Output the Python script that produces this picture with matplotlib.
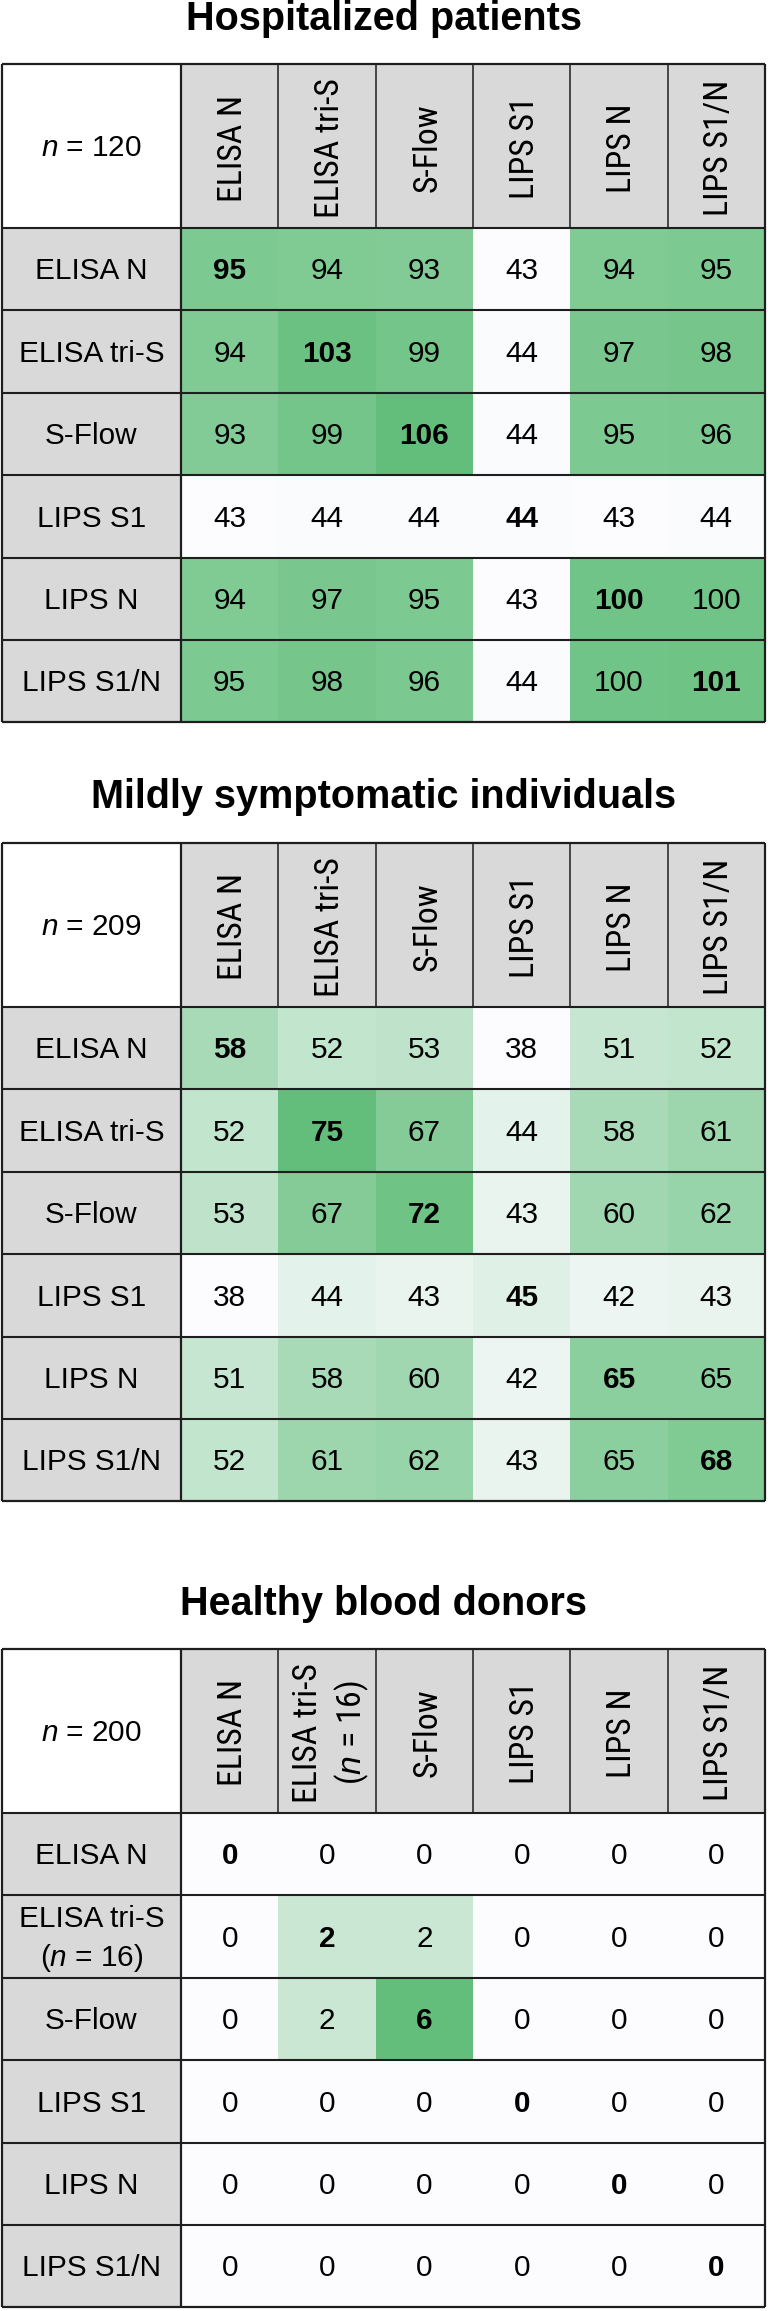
import matplotlib
matplotlib.use("Agg")
import matplotlib.pyplot as plt
import numpy as np
from matplotlib.colors import LinearSegmentedColormap, Normalize
from matplotlib.patches import Rectangle
from matplotlib import font_manager
from matplotlib.font_manager import FontProperties
from matplotlib.textpath import TextPath

# ---------------- data ----------------
titles = ["Hospitalized patients", "Mildly symptomatic individuals", "Healthy blood donors"]
sample_sizes = [120, 209, 200]
assays = ["ELISA N", "ELISA tri-S", "S-Flow", "LIPS S1", "LIPS N", "LIPS S1/N"]
assays_healthy = [["ELISA N"], ["ELISA tri-S", r"($\mathit{n}$ = 16)"], ["S-Flow"],
                  ["LIPS S1"], ["LIPS N"], ["LIPS S1/N"]]
hospitalized = [
    [95, 94, 93, 43, 94, 95],
    [94, 103, 99, 44, 97, 98],
    [93, 99, 106, 44, 95, 96],
    [43, 44, 44, 44, 43, 44],
    [94, 97, 95, 43, 100, 100],
    [95, 98, 96, 44, 100, 101],
]
mild = [
    [58, 52, 53, 38, 51, 52],
    [52, 75, 67, 44, 58, 61],
    [53, 67, 72, 43, 60, 62],
    [38, 44, 43, 45, 42, 43],
    [51, 58, 60, 42, 65, 65],
    [52, 61, 62, 43, 65, 68],
]
healthy = [
    [0, 0, 0, 0, 0, 0],
    [0, 2, 2, 0, 0, 0],
    [0, 2, 6, 0, 0, 0],
    [0, 0, 0, 0, 0, 0],
    [0, 0, 0, 0, 0, 0],
    [0, 0, 0, 0, 0, 0],
]

# ---------------- fonts ----------------
names = {f.name for f in font_manager.fontManager.ttflist}
BASE = "Liberation Sans" if "Liberation Sans" in names else "DejaVu Sans"
plt.rcParams["font.family"] = [BASE, "DejaVu Sans"]
plt.rcParams["mathtext.fontset"] = "custom"
plt.rcParams["mathtext.rm"] = BASE
plt.rcParams["mathtext.it"] = BASE + ":italic"

W, H, DPI = 768, 2311, 100
PX = DPI / 72.0


def ink(s, family, weight="normal"):
    """ink width of a string and cap height, both at a 1pt em"""
    fp = FontProperties(family=family, weight=weight)
    w = TextPath((0, 0), s, size=1, prop=fp).get_extents().width
    c = TextPath((0, 0), "H", size=1, prop=fp).get_extents().height
    return w, c


# header labels are set in a narrow grotesque: "ELISA tri-S" ~133 px long, caps ~24.5 px
HEAD_LEN, HEAD_CAPPX = 133.0, 24.5
target_ratio = HEAD_LEN / HEAD_CAPPX
best = None
for cand in ["Liberation Sans Narrow", "Nimbus Sans Narrow", "Arial Narrow",
             "Archivo Narrow", "Roboto Condensed", "PT Sans Narrow",
             "IBM Plex Sans Condensed", "Pragati Narrow"]:
    if cand not in names:
        continue
    w, c = ink("ELISA tri-S", cand)
    score = abs(w / c - target_ratio)
    if best is None or score < best[0] - 0.15:
        best = (score, cand)
NARROW = best[1] if best else BASE

BODY_PT = 21.4
TITLE_PT = 28.5
_, BODY_CAP = ink("H", BASE)
hw, HEAD_CAP = ink("ELISA tri-S", NARROW)
HEAD_PT = 0.5 * (HEAD_LEN / (hw * PX) + HEAD_CAPPX / (HEAD_CAP * PX))

GRAY = "#d9d9d9"
LINE = "#1e1e1e"
cmap = LinearSegmentedColormap.from_list("xlgreen", ["#FCFCFF", "#63BE7B"])

X_LEFT, X_LABEL, X_RIGHT = 2.0, 181.0, 765.0
HEADER_H = 164.0
ROW_H = 82.4
TOPS = [64.0, 843.0, 1649.0]
TITLE_BASE = [29.5, 808.5, 1615.0]
HEAD_LINE_GAP = 44.0
BODY_LINE_GAP = 39.0

fig = plt.figure(figsize=(W / DPI, H / DPI), dpi=DPI)
ax = fig.add_axes([0, 0, 1, 1])
ax.set_xlim(0, W)
ax.set_ylim(H, 0)
ax.axis("off")

datasets = [hospitalized, mild, healthy]
col_labels = [[[a] for a in assays], [[a] for a in assays], assays_healthy]

body_em = BODY_PT * PX
head_em = HEAD_PT * PX

for title, n, data, labels, top, tb in zip(titles, sample_sizes, datasets,
                                           col_labels, TOPS, TITLE_BASE):
    data = np.array(data, dtype=float)
    nr, nc = data.shape
    ax.text(W / 2, tb, title, ha="center", va="baseline", fontsize=TITLE_PT,
            fontweight="bold", color="black")

    body_top = top + HEADER_H
    xe = np.linspace(X_LABEL, X_RIGHT, nc + 1)
    ye = body_top + ROW_H * np.arange(nr + 1)
    bottom = ye[-1]

    # backgrounds
    ax.add_patch(Rectangle((X_LEFT, top), X_LABEL - X_LEFT, HEADER_H, fc="white", ec="none"))
    ax.add_patch(Rectangle((X_LABEL, top), X_RIGHT - X_LABEL, HEADER_H, fc=GRAY, ec="none"))
    ax.add_patch(Rectangle((X_LEFT, body_top), X_LABEL - X_LEFT, bottom - body_top,
                           fc=GRAY, ec="none"))
    ax.pcolormesh(xe, ye, data, cmap=cmap, norm=Normalize(data.min(), data.max()),
                  shading="flat", edgecolors="none", antialiased=False)

    # lines
    ax.hlines(ye[:-1], X_LEFT, X_RIGHT, color=LINE, lw=1.5)
    ax.hlines([top, bottom], X_LEFT, X_RIGHT, color=LINE, lw=1.6)
    ax.vlines([X_LEFT, X_LABEL, X_RIGHT], top, bottom, color=LINE, lw=1.6)
    ax.vlines(xe[1:-1], top, body_top, color=LINE, lw=1.1)

    # corner n
    ax.text((X_LEFT + X_LABEL) / 2, top + HEADER_H / 2 + BODY_CAP * body_em / 2,
            r"$\mathit{n}$ = %d" % n, ha="center", va="baseline", fontsize=BODY_PT)

    # header labels (rotated)
    for j, lines in enumerate(labels):
        cx = (xe[j] + xe[j + 1]) / 2
        k = len(lines)
        for li, s in enumerate(lines):
            off = (li - (k - 1) / 2) * HEAD_LINE_GAP
            ax.text(cx + off + HEAD_CAP * head_em / 2, top + HEADER_H / 2 + 2, s,
                    rotation=90, rotation_mode="anchor", ha="center", va="baseline",
                    fontsize=HEAD_PT, family=[NARROW, BASE])

    # row labels
    for i, lines in enumerate(labels):
        cy = (ye[i] + ye[i + 1]) / 2
        k = len(lines)
        for li, s in enumerate(lines):
            off = (li - (k - 1) / 2) * BODY_LINE_GAP
            ax.text((X_LEFT + X_LABEL) / 2, cy + off + BODY_CAP * body_em / 2, s,
                    ha="center", va="baseline", fontsize=BODY_PT)

    # values
    for i in range(nr):
        for j in range(nc):
            cx = (xe[j] + xe[j + 1]) / 2
            cy = (ye[i] + ye[i + 1]) / 2
            ax.text(cx, cy + BODY_CAP * body_em / 2, "%d" % data[i, j], ha="center",
                    va="baseline", fontsize=BODY_PT,
                    fontweight="bold" if i == j else "normal", color="black")

fig.savefig("out.png", dpi=DPI, facecolor="white")
